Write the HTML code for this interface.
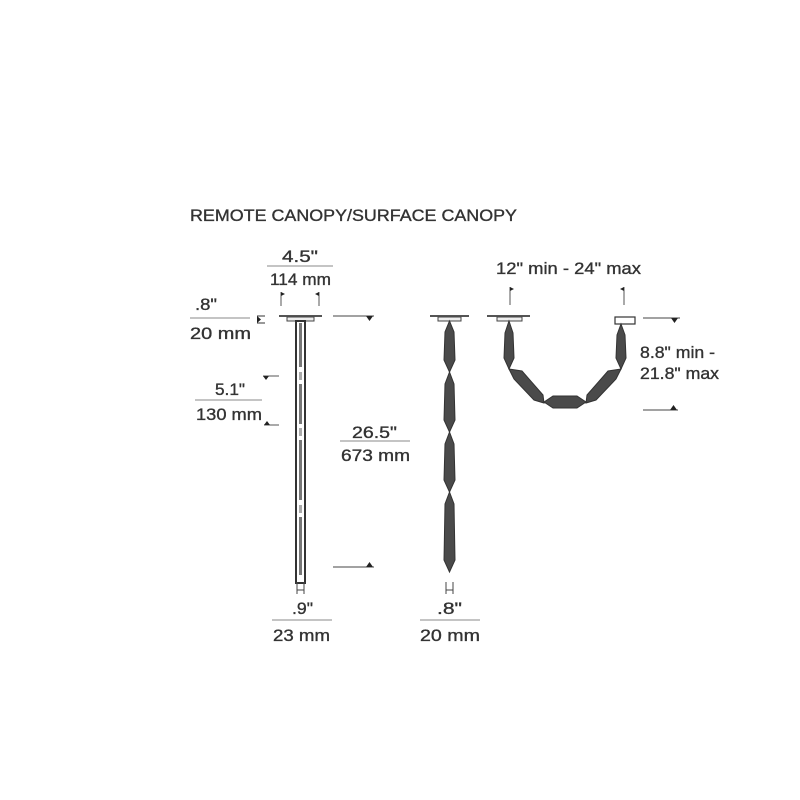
<!DOCTYPE html>
<html><head><meta charset="utf-8"><style>
html,body{margin:0;padding:0;background:#fff;}
svg{display:block;}
text{font-family:"Liberation Sans",sans-serif;fill:#333;stroke:#333;stroke-width:0.35;}
</style></head><body>
<svg width="800" height="800" viewBox="0 0 800 800" xmlns="http://www.w3.org/2000/svg">
<rect width="800" height="800" fill="#fff"/>
<text x="190" y="221" font-size="17" textLength="327" lengthAdjust="spacingAndGlyphs">REMOTE CANOPY/SURFACE CANOPY</text>

<!-- left fixture -->
<text x="282" y="262" font-size="17" textLength="36" lengthAdjust="spacingAndGlyphs">4.5"</text>
<line x1="267" y1="266" x2="333" y2="266" stroke="#888" stroke-width="1"/>
<text x="270" y="285" font-size="17" textLength="61" lengthAdjust="spacingAndGlyphs">114 mm</text>
<line x1="281" y1="292" x2="281" y2="306" stroke="#555"/><path d="M281 292 l4 2 l-4 2z" fill="#222"/>
<line x1="319" y1="292" x2="319" y2="306" stroke="#555"/><path d="M319 292 l-4 2 l4 2z" fill="#222"/>
<rect x="279" y="315" width="43" height="2" fill="#555"/>
<rect x="287" y="317" width="27" height="4" fill="#eee" stroke="#444" stroke-width="1"/>
<rect x="296" y="321" width="9" height="262" fill="#fff" stroke="#333" stroke-width="2"/>
<rect x="299" y="323" width="3" height="44" fill="#777"/>
<rect x="299" y="372" width="3" height="8" fill="#aaa"/>
<rect x="299" y="384" width="3" height="40" fill="#777"/>
<rect x="299" y="428" width="3" height="8" fill="#aaa"/>
<rect x="299" y="440" width="3" height="60" fill="#777"/>
<rect x="299" y="505" width="3" height="8" fill="#aaa"/>
<rect x="299" y="517" width="3" height="58" fill="#777"/>

<text x="195" y="310" font-size="17" textLength="22" lengthAdjust="spacingAndGlyphs">.8"</text>
<line x1="190" y1="318" x2="250" y2="318" stroke="#888"/>
<text x="190" y="339" font-size="17" textLength="61" lengthAdjust="spacingAndGlyphs">20 mm</text>
<path d="M257 316 l8 0 M257 323 l8 0" stroke="#333"/><path d="M257 316 l4 3.5 l-4 3.5z" fill="#222"/>

<line x1="263" y1="376" x2="279" y2="376" stroke="#555"/><path d="M263 376 l6 0 l-3 4z" fill="#222"/>
<text x="215" y="395" font-size="17" textLength="30" lengthAdjust="spacingAndGlyphs">5.1"</text>
<line x1="195" y1="400" x2="262" y2="400" stroke="#888"/>
<text x="196" y="420" font-size="17" textLength="66" lengthAdjust="spacingAndGlyphs">130 mm</text>
<line x1="264" y1="425" x2="279" y2="425" stroke="#555"/><path d="M264 425 l6 0 l-3 -4z" fill="#222"/>

<line x1="333" y1="316" x2="374" y2="316" stroke="#444"/><path d="M366 316 l7 0 l-3.5 5z" fill="#222"/>
<text x="352" y="438" font-size="17" textLength="45" lengthAdjust="spacingAndGlyphs">26.5"</text>
<line x1="340" y1="441" x2="410" y2="441" stroke="#888"/>
<text x="341" y="461" font-size="17" textLength="69" lengthAdjust="spacingAndGlyphs">673 mm</text>
<line x1="333" y1="567" x2="374" y2="567" stroke="#444"/><path d="M366 567 l7 0 l-3.5 -5z" fill="#222"/>

<path d="M297 582 v12 M304 582 v12 M297 590 h7" stroke="#444"/>
<text x="292" y="614" font-size="17" textLength="21" lengthAdjust="spacingAndGlyphs">.9"</text>
<line x1="272" y1="620" x2="332" y2="620" stroke="#888"/>
<text x="273" y="641" font-size="17" textLength="57" lengthAdjust="spacingAndGlyphs">23 mm</text>

<!-- middle fixture -->
<rect x="430" y="315" width="39" height="2" fill="#555"/>
<rect x="438" y="317" width="23" height="4" fill="#eee" stroke="#444"/>
<g fill="#4a4a4a" stroke="#333" stroke-width="1">
<path d="M449.5 321 L454 332 L455 360 L449.5 372 L444 360 L445 332 Z"/>
<path d="M449.5 372 L454 384 L455 420 L449.5 432 L444 420 L445 384 Z"/>
<path d="M449.5 432 L454 444 L455 480 L449.5 492 L444 480 L445 444 Z"/>
<path d="M449.5 492 L454 504 L455 560 L449.5 572 L444 560 L445 504 Z"/>
</g>
<path d="M446 582 v12 M453 582 v12 M446 590 h7" stroke="#444"/>
<text x="437" y="614" font-size="17" textLength="25" lengthAdjust="spacingAndGlyphs">.8"</text>
<line x1="420" y1="620" x2="480" y2="620" stroke="#888"/>
<text x="420" y="641" font-size="17" textLength="60" lengthAdjust="spacingAndGlyphs">20 mm</text>

<!-- right fixture -->
<text x="496" y="274" font-size="17" textLength="145" lengthAdjust="spacingAndGlyphs">12" min - 24" max</text>
<line x1="510" y1="287" x2="510" y2="305" stroke="#555"/><path d="M510 287 l4 2 l-4 2z" fill="#222"/>
<line x1="624" y1="287" x2="624" y2="305" stroke="#555"/><path d="M624 287 l-4 2 l4 2z" fill="#222"/>
<rect x="487" y="315" width="43" height="2" fill="#555"/>
<rect x="497" y="317" width="25" height="4" fill="#eee" stroke="#444"/>
<rect x="615" y="317" width="20" height="7" fill="#fff" stroke="#333" stroke-width="1.2"/>
<g fill="#4a4a4a" stroke="#333" stroke-width="1">
<path d="M509 321 L513 333 L514 358 L509 369 L504 358 L505 333 Z"/>
<path d="M621 324 L625 335 L626 358 L621 369 L616 358 L617 335 Z"/>
<path d="M509 369 L522 371 L543 395 L544 403 L534 400 L514 379 Z"/>
<path d="M621 369 L616 379 L596 400 L586 403 L587 395 L608 371 Z"/>
<path d="M544 402 L553 396 L577 396 L586 402 L577 408 L553 408 Z"/>
</g>
<line x1="643" y1="318" x2="680" y2="318" stroke="#444"/><path d="M671 318 l7 0 l-3.5 5z" fill="#222"/>
<text x="640" y="358" font-size="17" textLength="75" lengthAdjust="spacingAndGlyphs">8.8" min -</text>
<text x="640" y="379" font-size="17" textLength="79" lengthAdjust="spacingAndGlyphs">21.8" max</text>
<line x1="643" y1="410" x2="678" y2="410" stroke="#444"/><path d="M670 410 l7 0 l-3.5 -5z" fill="#222"/>
</svg>
</body></html>
